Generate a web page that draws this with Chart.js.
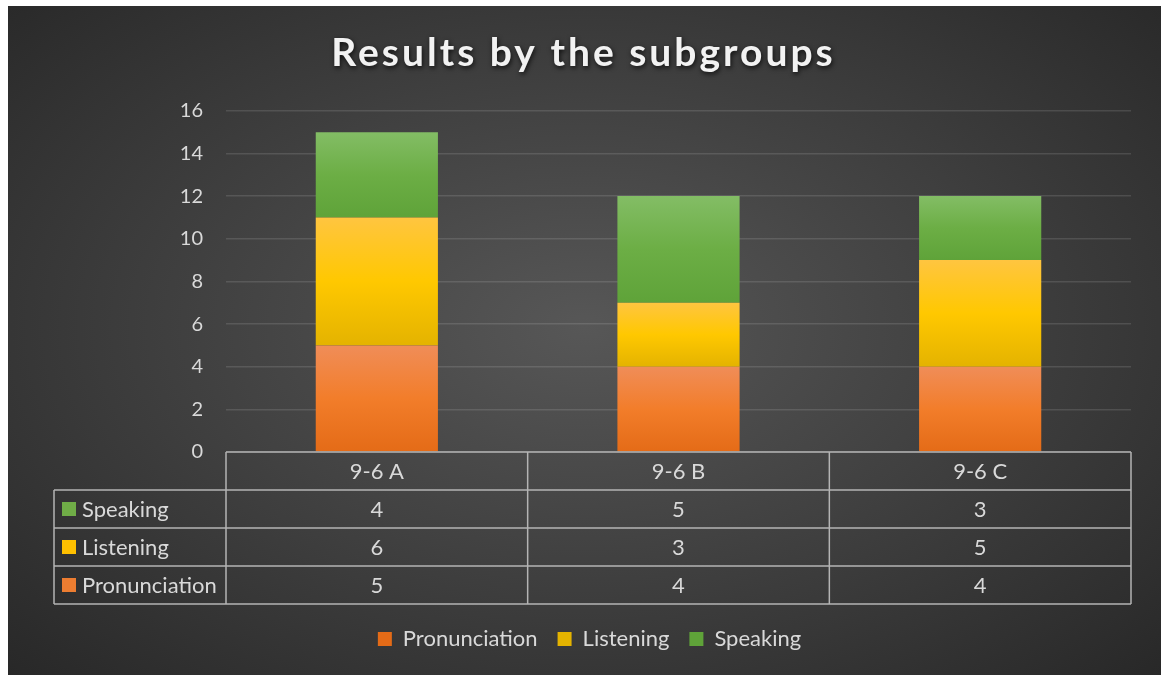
<!DOCTYPE html>
<html lang="en">
<head>
<meta charset="UTF-8">
<title>Results by the subgroups</title>
<script src="https://cdn.jsdelivr.net/npm/chart.js@4.4.4/dist/chart.umd.min.js"></script>
<style>
  html, body { margin: 0; padding: 0; background: #fff; }
  body { width: 1161px; height: 675px; position: relative; overflow: hidden; }
  .frame { position: absolute; left: 8px; top: 6px; width: 1153px; height: 669px;
    background: radial-gradient(ellipse farthest-corner at 50% 48%, #575757 0%, #424242 45%, #282828 100%); }
  canvas { display: block; }
</style>
</head>
<body>
<div class="frame"><canvas id="chart" width="1153" height="669"></canvas></div>
<script>
const categories = ['9-6 A', '9-6 B', '9-6 C']
const pronunciation = [5, 4, 4]
const listening = [6, 3, 5]
const speaking = [4, 5, 3]
const yMax = 16
const yStep = 2

const FONT = 'Lato, Calibri, Carlito, sans-serif'
const TEXT = '#d9d9d9'
const colors = {pronunciation: '#ed7d31', listening: '#ffc000', speaking: '#70ad47'}

// vertical gradient per stacked segment, computed from the y scale
function barFill(stops, base) {
  return (ctx) => {
    const chart = ctx.chart
    const y = chart.scales.y
    if (ctx.type !== 'data' || !y || !chart.chartArea) return base
    let start = 0
    for (let d = 0; d < ctx.datasetIndex; d++) start += chart.data.datasets[d].data[ctx.dataIndex]
    const top = y.getPixelForValue(start + ctx.raw)
    const bottom = y.getPixelForValue(start)
    if (!isFinite(top) || !isFinite(bottom) || top === bottom) return base
    const g = chart.ctx.createLinearGradient(0, top, 0, bottom)
    stops.forEach(([o, c]) => g.addColorStop(o, c))
    return g
  }
}

const titleStyle = {
  id: 'titleStyle',
  afterInit(chart) {
    const tb = chart.titleBlock
    if (!tb) return
    const draw = tb.draw.bind(tb)
    tb.draw = (area) => {
      const c = chart.ctx
      c.save()
      c.translate(14, 0)
      c.letterSpacing = '3px'
      c.shadowColor = 'rgba(0,0,0,0.75)'
      c.shadowBlur = 5
      c.shadowOffsetX = 1
      c.shadowOffsetY = 2
      draw(area)
      c.restore()
    }
  },
}

// nudge the bottom legend to the right, like the original
const legendShift = {
  id: 'legendShift',
  beforeDraw(chart) {
    const lg = chart.legend
    if (!lg || lg._shifted) return
    lg.left += 20
    lg.right += 20
    lg._shifted = true
  },
  afterLayout(chart) {
    if (chart.legend) chart.legend._shifted = false
  },
}

const TABLE_ROW = 38
const dataTable = {
  id: 'dataTable',
  afterDraw(chart) {
    const {ctx, chartArea, scales: {x}} = chart
    const rows = [
      {label: 'Speaking', data: speaking, color: colors.speaking},
      {label: 'Listening', data: listening, color: colors.listening},
      {label: 'Pronunciation', data: pronunciation, color: colors.pronunciation},
    ]
    const top = chartArea.bottom
    const left = chartArea.left
    const right = chartArea.right
    const labelLeft = 46
    const bottom = top + TABLE_ROW * (rows.length + 1)
    const bounds = [left]
    for (let i = 1; i < categories.length; i++) bounds.push((x.getPixelForValue(i - 1) + x.getPixelForValue(i)) / 2)
    bounds.push(right)

    ctx.save()
    ctx.strokeStyle = '#b4b4b4'
    ctx.lineWidth = 1.5
    ctx.beginPath()
    ctx.moveTo(left, top)
    ctx.lineTo(right, top)
    for (let r = 1; r <= rows.length + 1; r++) {
      const yy = top + r * TABLE_ROW
      ctx.moveTo(labelLeft, yy)
      ctx.lineTo(right, yy)
    }
    ctx.moveTo(labelLeft, top + TABLE_ROW)
    ctx.lineTo(labelLeft, bottom)
    bounds.forEach((bx) => { ctx.moveTo(bx, top); ctx.lineTo(bx, bottom) })
    ctx.stroke()

    ctx.fillStyle = TEXT
    ctx.font = `22px ${FONT}`
    ctx.textBaseline = 'middle'
    ctx.textAlign = 'center'
    categories.forEach((c, i) => ctx.fillText(c, x.getPixelForValue(i), top + TABLE_ROW / 2 + 1))
    rows.forEach((row, r) => {
      const cy = top + TABLE_ROW * (r + 1.5) + 1
      ctx.textAlign = 'center'
      ctx.fillStyle = TEXT
      row.data.forEach((v, i) => ctx.fillText(String(v), x.getPixelForValue(i), cy))
      ctx.fillStyle = row.color
      ctx.fillRect(labelLeft + 8, cy - 8, 14, 14)
      ctx.fillStyle = TEXT
      ctx.textAlign = 'left'
      ctx.fillText(row.label, labelLeft + 28, cy)
    })
    ctx.restore()
  },
}

new Chart(document.getElementById('chart'), {
  type: 'bar',
  data: {
    labels: categories,
    datasets: [
      {
        label: 'Pronunciation', data: pronunciation,
        backgroundColor: barFill([[0, '#f08d58'], [0.5, '#f27d2a'], [1, '#e46b17']], colors.pronunciation),
      },
      {
        label: 'Listening', data: listening,
        backgroundColor: barFill([[0, '#ffc540'], [0.5, '#ffc800'], [1, '#e4b300']], colors.listening),
      },
      {
        label: 'Speaking', data: speaking,
        backgroundColor: barFill([[0, '#83bd65'], [0.5, '#6cae45'], [1, '#5fa339']], colors.speaking),
      },
    ],
  },
  options: {
    responsive: false,
    animation: false,
    datasets: {bar: {categoryPercentage: 1, barPercentage: 0.405, borderWidth: 0}},
    layout: {padding: {left: 0, right: 30, top: 0, bottom: 15}},
    scales: {
      x: {
        stacked: true,
        ticks: {display: false},
        grid: {display: false},
        border: {display: false},
        afterFit(s) { s.height = TABLE_ROW * 4 + 4 },
      },
      y: {
        stacked: true,
        min: 0,
        max: yMax,
        ticks: {stepSize: yStep, padding: 23, color: TEXT, font: {family: FONT, size: 20}},
        grid: {color: 'rgba(255,255,255,0.12)', lineWidth: 1.5, drawTicks: false},
        border: {display: false},
        afterFit(s) { s.width = 218 },
      },
    },
    plugins: {
      title: {
        display: true,
        text: 'Results by the subgroups',
        color: '#f2f2f2',
        font: {family: FONT, size: 39, weight: 'bold'},
        padding: {top: 24, bottom: 34},
      },
      legend: {
        position: 'bottom',
        labels: {color: TEXT, font: {family: FONT, size: 22}, boxWidth: 14, boxHeight: 14, padding: 20},
      },
      tooltip: {enabled: false},
    },
  },
  plugins: [titleStyle, legendShift, dataTable],
})
</script>
</body>
</html>
